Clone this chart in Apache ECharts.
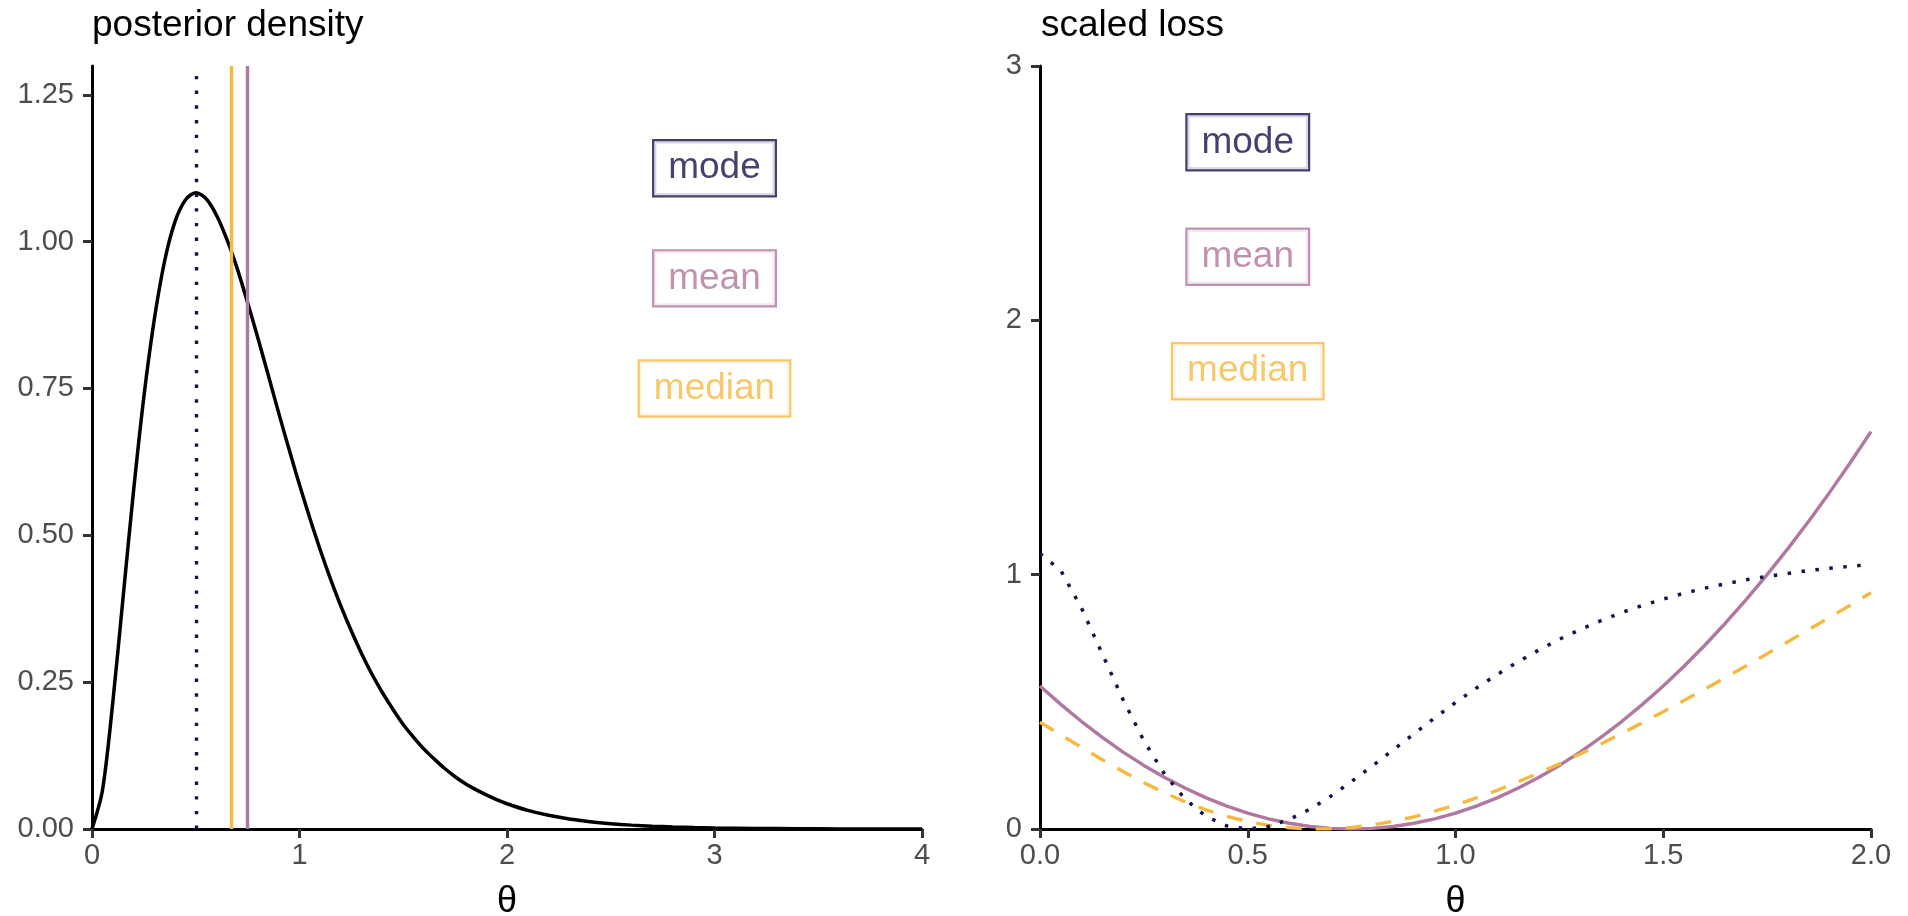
<!DOCTYPE html>
<html lang="en">

<head>
    <meta charset="UTF-8">
    <title>posterior density / scaled loss</title>
    <script src="https://cdn.jsdelivr.net/npm/echarts@6/dist/echarts.min.js"></script>
    <style>
        body,
        html {
            padding: 0;
            margin: 0;
            background: #fff;
        }

        #chart-panel {
            width: 1908px;
            height: 916px;
        }
    </style>
</head>

<body>
    <div id="chart-panel"></div>
    <script>
        // left panel: posterior density over theta
        var densityTheta = [0, 0.05, 0.1, 0.15, 0.2, 0.25, 0.3, 0.35, 0.4, 0.45, 0.5, 0.55, 0.6, 0.65, 0.7, 0.75,
            0.8, 0.85, 0.9, 0.95, 1, 1.05, 1.1, 1.15, 1.2, 1.25, 1.3, 1.35, 1.4, 1.45, 1.5, 1.55, 1.6, 1.65, 1.7,
            1.75, 1.8, 1.85, 1.9, 1.95, 2, 2.1, 2.2, 2.3, 2.4, 2.5, 2.6, 2.7, 2.8, 2.9, 3, 3.2, 3.4, 3.6, 3.8, 4];
        var densityValue = [0, 0.065, 0.215, 0.395, 0.575, 0.736, 0.867, 0.967, 1.034, 1.071, 1.083, 1.073, 1.045,
            1.004, 0.954, 0.896, 0.835, 0.772, 0.708, 0.646, 0.586, 0.529, 0.475, 0.425, 0.379, 0.337, 0.298, 0.263,
            0.232, 0.204, 0.178, 0.156, 0.136, 0.119, 0.103, 0.089, 0.077, 0.067, 0.058, 0.05, 0.043,
            0.0317, 0.0233, 0.0171, 0.0125, 0.0091, 0.0066, 0.0048, 0.0034, 0.0025, 0.0018,
            0.0009, 0.0005, 0.0002, 0.0001, 0.0001];
        var densityTicks = [0, 0.25, 0.5, 0.75, 1, 1.25];

        // point estimates (vertical lines) and their labels
        var pointNames = ['mode', 'mean', 'median'];
        var pointTheta = [0.5, 0.75, 0.668];
        var densityLabelY = [1.125, 0.9375, 0.75];
        var lossLabelY = [2.7, 2.25, 1.8];

        // right panel: scaled loss over theta
        var lossTheta = [0, 0.05, 0.1, 0.15, 0.2, 0.25, 0.3, 0.35, 0.4, 0.45, 0.5, 0.55, 0.6, 0.65, 0.7, 0.75,
            0.8, 0.85, 0.9, 0.95, 1, 1.05, 1.1, 1.15, 1.2, 1.25, 1.3, 1.35, 1.4, 1.45, 1.5, 1.55, 1.6, 1.65, 1.7,
            1.75, 1.8, 1.85, 1.9, 1.95, 2];
        var lossMode = [1.083, 1.017, 0.868, 0.688, 0.508, 0.347, 0.215, 0.116, 0.049, 0.012, 0, 0.01, 0.038,
            0.078, 0.129, 0.187, 0.248, 0.311, 0.374, 0.437, 0.497, 0.554, 0.607, 0.657, 0.703, 0.746, 0.784,
            0.819, 0.851, 0.879, 0.904, 0.927, 0.947, 0.964, 0.98, 0.993, 1.005, 1.016, 1.025, 1.033, 1.04];
        var lossMean = [0.5625, 0.49, 0.4225, 0.36, 0.3025, 0.25, 0.2025, 0.16, 0.1225, 0.09, 0.0625, 0.04, 0.0225,
            0.01, 0.0025, 0, 0.0025, 0.01, 0.0225, 0.04, 0.0625, 0.09, 0.1225, 0.16, 0.2025, 0.25, 0.3025, 0.36,
            0.4225, 0.49, 0.5625, 0.64, 0.7225, 0.81, 0.9025, 1, 1.1025, 1.21, 1.3225, 1.44, 1.5625];
        var lossMedian = [0.42, 0.37, 0.321, 0.272, 0.226, 0.182, 0.142, 0.106, 0.075, 0.05, 0.029, 0.014, 0.005,
            0, 0.001, 0.006, 0.016, 0.03, 0.048, 0.07, 0.094, 0.122, 0.152, 0.185, 0.22, 0.256, 0.295, 0.334,
            0.376, 0.418, 0.461, 0.505, 0.55, 0.596, 0.642, 0.689, 0.736, 0.784, 0.832, 0.88, 0.929];

        var FONT = 'Liberation Sans';
        var colors = { mode: '#16124a', mean: '#b0779f', median: '#f5b942' };
        var lineTypes = { mode: [3.5, 10.5], mean: 'solid', median: [16, 14] };

        function pairs(xs, ys) {
            return xs.map(function (x, i) { return [x, ys[i]]; });
        }

        function axisCommon(extra) {
            var ax = {
                type: 'value',
                splitLine: { show: false },
                axisLine: { show: true, onZero: false, lineStyle: { color: '#000', width: 3 } },
                axisTick: { show: true, length: 9, lineStyle: { color: '#333', width: 3 } },
                axisLabel: { color: '#4d4d4d', fontSize: 29, fontFamily: FONT }
            };
            for (var k in extra) {
                if (typeof extra[k] === 'object' && ax[k] && !Array.isArray(extra[k])) {
                    ax[k] = Object.assign({}, ax[k], extra[k]);
                } else {
                    ax[k] = extra[k];
                }
            }
            return ax;
        }

        function labelSeries(xIdx, yIdx, xPos, ys) {
            return {
                type: 'scatter',
                xAxisIndex: xIdx,
                yAxisIndex: yIdx,
                symbolSize: 0,
                silent: true,
                z: 5,
                data: pointNames.map(function (n, i) {
                    return {
                        name: n,
                        value: [xPos, ys[i]],
                        label: { color: colors[n], borderColor: colors[n] }
                    };
                }),
                label: {
                    show: true,
                    position: 'inside',
                    formatter: '{b}',
                    fontSize: 37,
                    fontFamily: FONT,
                    borderWidth: 2.2,
                    padding: [9, 14, 8, 14],
                    backgroundColor: '#fff'
                }
            };
        }

        var option = {
            backgroundColor: '#fff',
            animation: false,
            title: [
                {
                    text: 'posterior density', left: 92, top: 7, padding: 0,
                    textStyle: { fontSize: 37, fontWeight: 'normal', color: '#000', fontFamily: FONT }
                },
                {
                    text: 'scaled loss', left: 1041, top: 7, padding: 0,
                    textStyle: { fontSize: 37, fontWeight: 'normal', color: '#000', fontFamily: FONT }
                }
            ],
            grid: [
                { left: 92, top: 66, width: 830, height: 763, outerBoundsMode: 'none' },
                { left: 1040, top: 66, width: 831, height: 763, outerBoundsMode: 'none' }
            ],
            xAxis: [
                axisCommon({
                    gridIndex: 0, min: 0, max: 4, interval: 1,
                    name: 'θ', nameLocation: 'middle', nameGap: 55,
                    nameTextStyle: { fontSize: 36, color: '#000', fontFamily: FONT },
                    axisLabel: { margin: 12 }
                }),
                axisCommon({
                    gridIndex: 1, min: 0, max: 2, interval: 0.5,
                    name: 'θ', nameLocation: 'middle', nameGap: 55,
                    nameTextStyle: { fontSize: 36, color: '#000', fontFamily: FONT },
                    axisLabel: { margin: 12, formatter: function (v) { return v.toFixed(1); } }
                })
            ],
            yAxis: [
                axisCommon({
                    gridIndex: 0, min: 0, max: 1.299,
                    axisTick: { customValues: densityTicks },
                    axisLabel: {
                        margin: 18, customValues: densityTicks,
                        formatter: function (v) { return v.toFixed(2); }
                    }
                }),
                axisCommon({
                    gridIndex: 1, min: 0, max: 3, interval: 1,
                    axisLabel: { margin: 18 }
                })
            ],
            series: [
                {
                    type: 'line',
                    xAxisIndex: 0,
                    yAxisIndex: 0,
                    data: pairs(densityTheta, densityValue),
                    showSymbol: false,
                    smooth: 0.3,
                    silent: true,
                    lineStyle: { color: '#000', width: 3.5 },
                    z: 3,
                    markLine: {
                        silent: true,
                        symbol: 'none',
                        label: { show: false },
                        data: pointNames.map(function (n, i) {
                            return {
                                xAxis: pointTheta[i],
                                lineStyle: {
                                    color: colors[n], width: 3.4,
                                    type: n === 'mode' ? [3.4, 11.3] : 'solid', cap: 'butt'
                                }
                            };
                        })
                    }
                },
                {
                    type: 'line', xAxisIndex: 1, yAxisIndex: 1, showSymbol: false, silent: true,
                    data: pairs(lossTheta, lossMean),
                    lineStyle: { color: colors.mean, width: 3.4, type: lineTypes.mean }
                },
                {
                    type: 'line', xAxisIndex: 1, yAxisIndex: 1, showSymbol: false, silent: true,
                    data: pairs(lossTheta, lossMedian),
                    lineStyle: { color: colors.median, width: 3.4, type: lineTypes.median, cap: 'butt' }
                },
                {
                    type: 'line', xAxisIndex: 1, yAxisIndex: 1, showSymbol: false, silent: true,
                    data: pairs(lossTheta, lossMode),
                    lineStyle: { color: colors.mode, width: 3.5, type: lineTypes.mode, cap: 'butt' }
                },
                labelSeries(0, 0, 3, densityLabelY),
                labelSeries(1, 1, 0.5, lossLabelY)
            ]
        };

        var chartVM = echarts.init(document.getElementById('chart-panel'));
        chartVM.setOption(option);
    </script>
</body>

</html>
